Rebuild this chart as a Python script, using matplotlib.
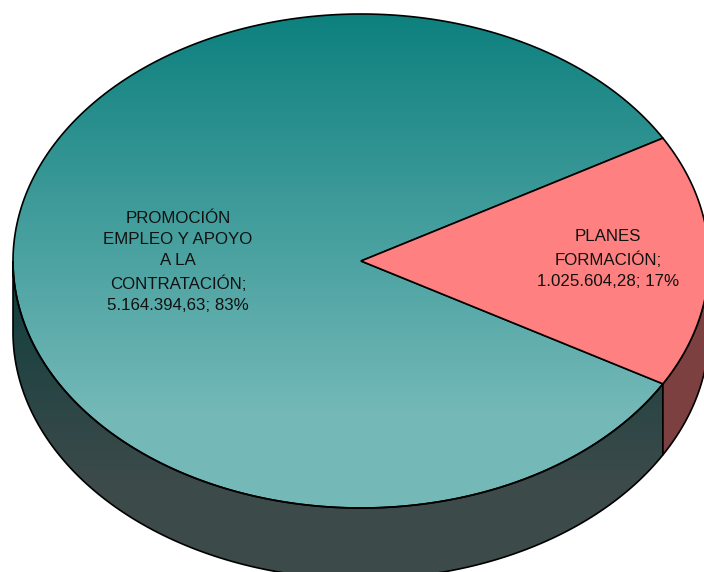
#!/usr/bin/env python3
# -*- coding: utf-8 -*-
import numpy as np
import matplotlib
matplotlib.use('Agg')
import matplotlib.pyplot as plt
from matplotlib.colors import LinearSegmentedColormap
from matplotlib.patches import Polygon

## data
categories = ['PROMOCIÓN\nEMPLEO Y APOYO\nA LA\nCONTRATACIÓN;', 'PLANES\nFORMACIÓN;']
values = [5164394.63, 1025604.28]
value_labels = ['5.164.394,63; 83%', '1.025.604,28; 17%']

## pie geometry in pixels
cx, cy = 361, 261
rx, ry = 348, 247
depth = 71


def arc(a0, a1, shift=0):
    t = np.radians(np.linspace(a0, a1, 300))
    return np.column_stack([cx + rx * np.cos(t), cy + ry * np.sin(t) + shift])


def fill_gradient(ax, pts, c0, c1, y0, y1):
    # runs from c0 at y0 to c1 at y1, then stays at c1 down to the bottom
    cmap = LinearSegmentedColormap.from_list('g', [c0, c1])
    rows = np.arange(572) + 0.5
    grad = np.clip((rows - y0) / (y1 - y0), 0, 1).reshape(-1, 1)
    im = ax.imshow(grad, cmap=cmap, vmin=0, vmax=1, extent=[0, 704, 572, 0], aspect='auto', zorder=2)
    poly = Polygon(pts, closed=True, fc='none', ec='none', transform=ax.transData)
    ax.add_patch(poly)
    im.set_clip_path(poly)
    ax.add_patch(Polygon(pts, closed=True, fc='none', ec='black', lw=1.2, zorder=3))


fig = plt.figure(figsize=(7.04, 5.72), dpi=100)
ax = fig.add_axes([0, 0, 1, 1])

share = values[1] / sum(values) * 360
start, end = -share / 2, share / 2

# side walls first, tops over them
side_main = np.vstack([arc(end, 180), arc(180, end, depth)])
fill_gradient(ax, side_main, '#0f3f3e', '#3c4a4a', 270, 480)
side_red = np.vstack([arc(0, end), arc(end, 0, depth)])
ax.add_patch(Polygon(side_red, closed=True, fc='#7c4040', ec='black', lw=1.2, zorder=3))

top_main = np.vstack([[cx, cy], arc(end, 360 + start)])
fill_gradient(ax, top_main, '#0d807e', '#74b9b8', cy - ry, 415)
top_red = np.vstack([[cx, cy], arc(start, end)])
ax.add_patch(Polygon(top_red, closed=True, fc='#ff8080', ec='black', lw=1.2, zorder=4))

ax.text(178, 262, categories[0] + '\n' + value_labels[0], ha='center', va='center',
        fontsize=12.2, family='Liberation Sans', color='#111111', linespacing=1.53, zorder=5)
ax.text(608, 259, categories[1] + '\n' + value_labels[1], ha='center', va='center',
        fontsize=12.2, family='Liberation Sans', color='#111111', linespacing=1.53, zorder=5)

ax.set_xlim(0, 704)
ax.set_ylim(572, 0)
ax.axis('off')
plt.savefig('out.png', dpi=100)
